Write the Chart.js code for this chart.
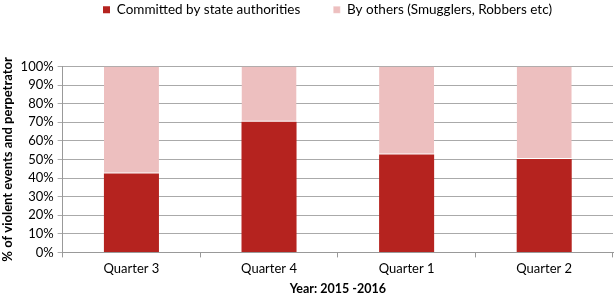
<!DOCTYPE html>
<html><head><meta charset="utf-8">
<script src="https://cdn.jsdelivr.net/npm/chart.js@4/dist/chart.umd.min.js"></script>
<style>html,body{margin:0;padding:0;background:#fff}#w{width:614px;height:296px}</style>
</head><body><div id="w"><canvas id="c"></canvas></div>
<script>
const categories = ["Quarter 3", "Quarter 4", "Quarter 1", "Quarter 2"];
const stateValues = [42.5, 70.3, 52.7, 50.2];
const otherValues = [57.5, 29.7, 47.3, 49.8];
const seriesNames = ["Committed by state authorities", "By others (Smugglers, Robbers etc)"];
const yTitle = "% of violent events and perpetrator";
const xTitle = "Year: 2015 -2016";
const font = "Lato, 'Open Sans', sans-serif";
const legendTweak = {
  id: 'legendTweak',
  beforeInit(chart) {
    const lg = chart.legend;
    const fit = lg.fit;
    lg.fit = function () { fit.call(this); this.height += 10; };
  },
  afterLayout(chart) {
    const lg = chart.legend;
    lg.left += 21; lg.right += 21;
    lg.top -= 30; lg.bottom -= 30;
  }
};
new Chart(document.getElementById('c'), {
  type: 'bar',
  data: {
    labels: categories,
    datasets: [
      {label: seriesNames[0], data: stateValues, backgroundColor: '#B5231F', borderWidth: 0, categoryPercentage: 1, barPercentage: 0.4},
      {label: seriesNames[1], data: otherValues, backgroundColor: '#EDBFBF', borderColor: '#ffffff', borderWidth: {bottom: 1}, borderSkipped: false, categoryPercentage: 1, barPercentage: 0.4}
    ]
  },
  plugins: [legendTweak],
  options: {
    responsive: true, maintainAspectRatio: false, animation: false,
    layout: {padding: {top: 0, right: 1, left: 0, bottom: 0}},
    plugins: {
      legend: {position: 'top', labels: {boxWidth: 7, boxHeight: 7, font: {family: font, size: 13.5}, color: '#000', padding: 33}},
      tooltip: {enabled: false}
    },
    scales: {
      x: {stacked: true,
        grid: {offset: true, drawOnChartArea: false, drawTicks: true, tickLength: 5, color: '#999'},
        border: {color: '#999'},
        ticks: {font: {family: font, size: 13}, color: '#000', padding: 4},
        title: {display: true, text: xTitle, font: {family: font, size: 12.5, weight: 'bold'}, color: '#000', padding: {top: 0, bottom: 0}}
      },
      y: {stacked: true, min: 0, max: 100,
        grid: {color: '#aaa', tickLength: 5},
        border: {color: '#999'},
        ticks: {stepSize: 10, autoSkip: false, callback: v => v + '%', font: {family: font, size: 13}, color: '#000', padding: 4},
        title: {display: true, text: yTitle, font: {family: font, size: 13, weight: 'bold'}, color: '#000', padding: {top: 0, bottom: 1}}
      }
    }
  }
});
</script></body></html>
